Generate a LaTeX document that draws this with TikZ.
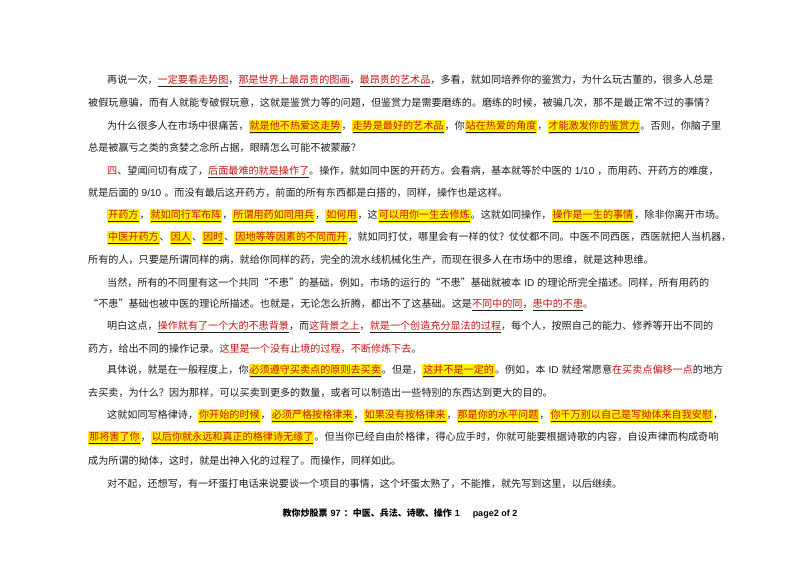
\documentclass[tikz,border=0pt]{standalone}
\usepackage{fontspec}
\setmainfont{Noto Sans CJK SC}
\newfontfamily\lat{Liberation Sans}
\XeTeXlinebreaklocale "zh"
\XeTeXlinebreakskip=0pt plus 3pt minus 0.5pt
\definecolor{hlred}{RGB}{200,20,20}
\definecolor{hlyel}{RGB}{255,240,0}
\definecolor{txt}{RGB}{30,30,30}
\newcommand{\ru}[1]{\underline{\textcolor{hlred}{#1}}}
\newcommand{\rd}[1]{\textcolor{hlred}{#1}}
\newcommand{\hy}[1]{{\fboxsep=1pt\colorbox{hlyel}{\underline{\textcolor{hlred}{#1}}}}}
\newcommand{\la}[1]{\hspace{3pt}{\lat #1}\hspace{3pt}}
\newcommand{\jl}[4]{\node[ln,anchor=west] (#1) at (#2,#3) {\hbox to \dimexpr 722pt-#2pt\relax{#4}};}
\newcommand{\nl}[4]{\node[ln,anchor=west] (#1) at (#2,#3) {#4};}
\begin{document}
\begin{tikzpicture}[x=1pt,y=-1pt,ln/.style={inner sep=0pt,font=\fontsize{10.1}{12}\selectfont,text=txt}]
\useasboundingbox[fill=white] (0,0) rectangle (800,566);
\jl{l1}{107}{81}{再说一次，\ru{一定要看走势图}，\ru{那是世界上最昂贵的图画}，\ru{最昂贵的艺术品}，多看，就如同培养你的鉴赏力，为什么玩古董的，很多人总是}
\nl{l2}{88}{103}{被假玩意骗，而有人就能专破假玩意，这就是鉴赏力等的问题，但鉴赏力是需要磨练的。磨练的时候，被骗几次，那不是最正常不过的事情？}
\jl{l3}{107}{127}{为什么很多人在市场中很痛苦，\hy{就是他不热爱这走势}，\hy{走势是最好的艺术品}，你\hy{站在热爱的角度}，\hy{才能激发你的鉴赏力}。否则，你脑子里}
\nl{l4}{88}{148}{总是被赢亏之类的贪婪之念所占据，眼睛怎么可能不被蒙蔽？}
\jl{l5}{107}{172}{\rd{四}、望闻问切有成了，\ru{后面最难的就是操作了}。操作，就如同中医的开药方。会看病，基本就等於中医的\la{1/10}，而用药、开药方的难度，}
\nl{l6}{88}{193}{就是后面的\la{9/10}。而没有最后这开药方，前面的所有东西都是白搭的，同样，操作也是这样。}
\nl{l7}{107}{216}{\hy{开药方}，\hy{就如同行军布阵}，\hy{所谓用药如同用兵}，\hy{如何用}，这\hy{可以用你一生去修炼}。这就如同操作，\hy{操作是一生的事情}，除非你离开市场。}
\jl{l8}{107}{238}{\hy{中医开药方}、\hy{因人}、\hy{因时}、\hy{因地等等因素的不同而开}，就如同打仗，哪里会有一样的仗？仗仗都不同。中医不同西医，西医就把人当机器，}
\nl{l9}{88}{260}{所有的人，只要是所谓同样的病，就给你同样的药，完全的流水线机械化生产，而现在很多人在市场中的思维，就是这种思维。}
\jl{l10}{107}{283}{当然，所有的不同里有这一个共同“不患”的基础，例如，市场的运行的“不患”基础就被本\la{ID}的理论所完全描述。同样，所有用药的}
\nl{l11}{88}{305}{“不患”基础也被中医的理论所描述。也就是，无论怎么折腾，都出不了这基础。这是\ru{不同中的同}，\ru{患中的不患}。}
\jl{l12}{107}{327}{明白这点，\ru{操作就有了一个大的不患背景}，而\ru{这背景之上}，\ru{就是一个创造充分显法的过程}，每个人，按照自己的能力、修养等开出不同的}
\nl{l13}{88}{349}{药方，给出不同的操作记录。\rd{这里是一个没有止境的过程，不断修炼下去}。}
\jl{l14}{107}{371}{具体说，就是在一般程度上，你\hy{必须遵守买卖点的原则去买卖}。但是，\hy{这并不是一定的}。例如，本\la{ID}就经常愿意\rd{在买卖点偏移一点}的地方}
\nl{l15}{88}{393}{去买卖，为什么？因为那样，可以买卖到更多的数量，或者可以制造出一些特别的东西达到更大的目的。}
\jl{l16}{107}{416}{这就如同写格律诗，\hy{你开始的时候}，\hy{必须严格按格律来}，\hy{如果没有按格律来}，\hy{那是你的水平问题}，\hy{你千万别以自己是写拗体来自我安慰}，}
\jl{l17}{88}{438}{\hy{那将害了你}，\hy{以后你就永远和真正的格律诗无缘了}。但当你已经自由於格律，得心应手时，你就可能要根据诗歌的内容，自设声律而构成奇响}
\nl{l18}{88}{461}{成为所谓的拗体，这时，就是出神入化的过程了。而操作，同样如此。}
\nl{l19}{107}{484}{对不起，还想写，有一坏蛋打电话来说要谈一个项目的事情，这个坏蛋太熟了，不能推，就先写到这里，以后继续。}
\node[inner sep=0pt,font=\fontsize{9}{11}\selectfont\bfseries] (ft) at (400,514) {教你炒股票\la{97}：中医、兵法、诗歌、操作\la{1}\hspace{10pt}{\lat page2 of 2}};
\end{tikzpicture}
\end{document}
